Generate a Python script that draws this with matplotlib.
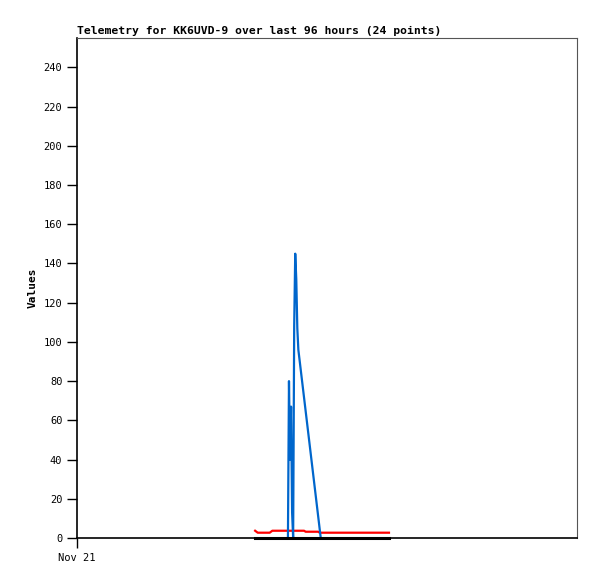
import matplotlib
matplotlib.use("Agg")
import matplotlib.pyplot as plt

# hours since start of window (96 h)
blue_hours = [40.5, 40.7, 40.9, 41.1, 41.3, 41.5, 41.7, 41.9, 42.1, 42.3, 42.5, 46.8]
blue_vals = [0, 80, 40, 67, 13, 0, 108, 145, 132, 107, 96, 0]

red_hours = [34.2, 34.7, 37.0, 37.5, 43.6, 43.9, 46.3, 46.6, 59.9]
red_vals = [3.7, 2.7, 2.7, 3.7, 3.7, 3.2, 3.2, 2.7, 2.7]

black_hours = [34.2, 59.9]
black_vals = [0, 0]

y_ticks = list(range(0, 241, 20))
x_label = "Nov 21"

plt.rcParams['font.family'] = 'DejaVu Sans Mono'

fig = plt.figure(figsize=(5.97, 5.79), dpi=100)
ax = fig.add_axes([77 / 597, 1 - 538 / 579, 500 / 597, 500 / 579])

ax.plot(black_hours, black_vals, color='black', lw=2.2, clip_on=False, zorder=3)
ax.plot(red_hours, red_vals, color='#ff0000', lw=1.6)
ax.plot(blue_hours, blue_vals, color='#0066cc', lw=1.6)

ax.set_xlim(0, 96)
ax.set_ylim(0, 255)
ax.set_yticks(y_ticks)
ax.set_yticklabels([str(v) for v in y_ticks], fontsize=7.5)
ax.set_xticks([0])
ax.set_xticklabels([x_label], fontsize=7.5)
ax.tick_params(axis='both', direction='out', length=7, width=1, color='black')

for side in ['top', 'right']:
    ax.spines[side].set_color('#555555')
    ax.spines[side].set_linewidth(0.8)
for side in ['left', 'bottom']:
    ax.spines[side].set_color('black')
    ax.spines[side].set_linewidth(1.2)

ax.set_ylabel('Values', fontsize=8, fontweight='bold')
ax.set_title('Telemetry for KK6UVD-9 over last 96 hours (24 points)',
             fontsize=8.2, fontweight='bold', loc='left', pad=3)

plt.savefig("out.png", format="png")
